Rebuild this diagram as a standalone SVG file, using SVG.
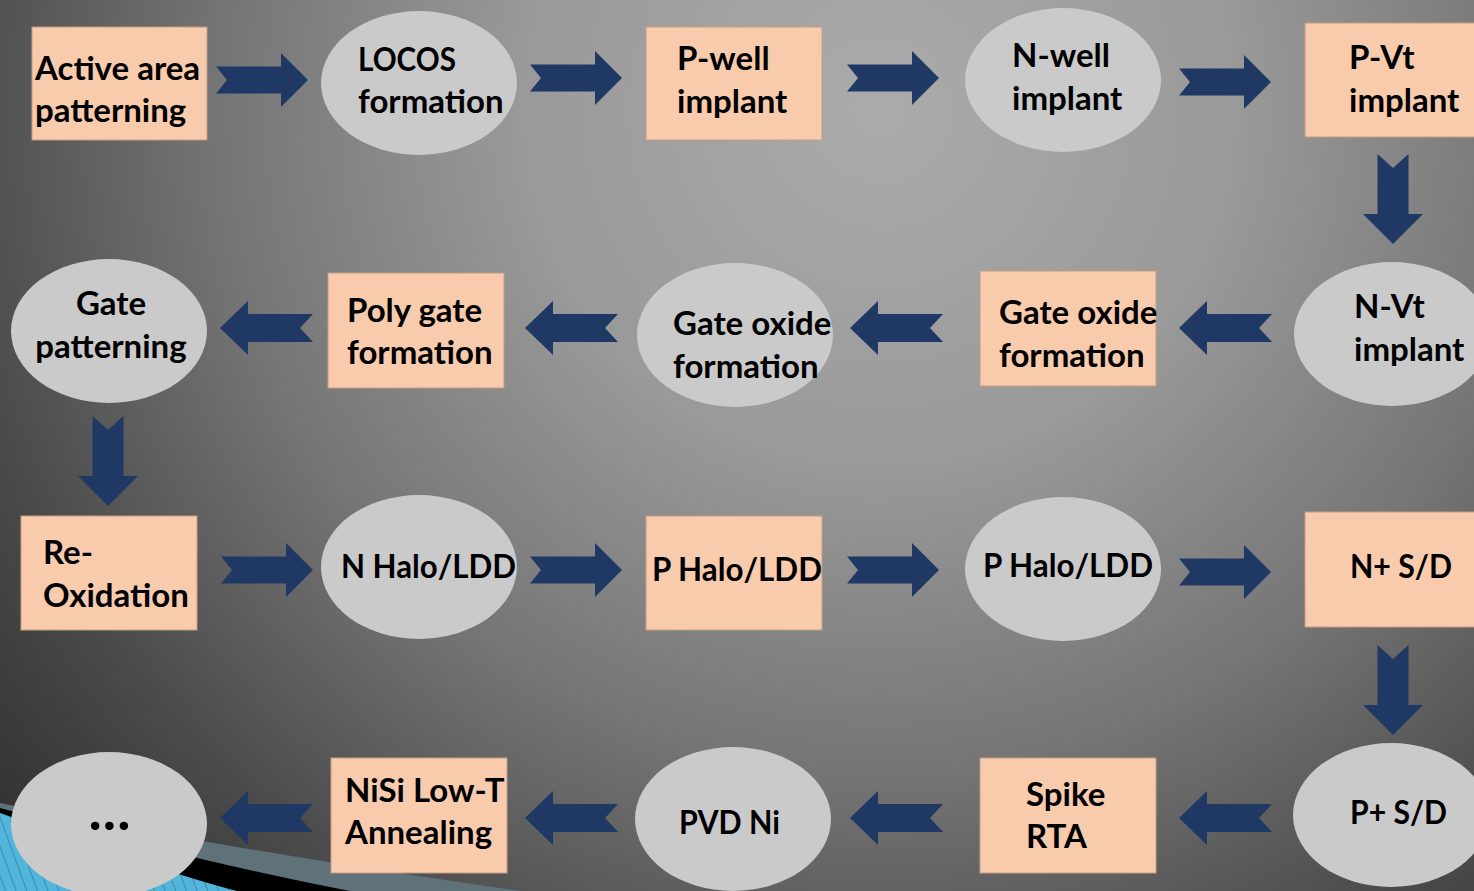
<svg xmlns="http://www.w3.org/2000/svg" width="1474" height="891" viewBox="0 0 1474 891">
  <defs>
    <radialGradient id="bg" gradientUnits="userSpaceOnUse" cx="880" cy="110" r="1200">
      <stop offset="0" stop-color="#ababab"/>
      <stop offset="0.3" stop-color="#999999"/>
      <stop offset="0.55" stop-color="#757575"/>
      <stop offset="0.78" stop-color="#4a4a4a"/>
      <stop offset="1" stop-color="#2a2a2a"/>
    </radialGradient>
    <pattern id="hatch" patternUnits="userSpaceOnUse" width="10" height="10" patternTransform="rotate(-20)">
      <rect width="10" height="10" fill="#52b6dc"/>
      <line x1="0" y1="0" x2="0" y2="10" stroke="#2b6f8e" stroke-width="1.2"/>
    </pattern>
    <path id="arrR" d="M0,-13.5 H65 V-27 L92,0 L65,27 V13.5 H0 L11,0 Z"/>
    <path id="arrL" d="M0,0 L28,-27 V-14 H93 L80,0 L93,14 H28 V27 Z"/>
    <path id="arrD" d="M-15.5,0 L0,14 L15.5,0 V60 H30 L0,90 L-30,60 H-15.5 Z"/>
  </defs>
  <style>
    .box { fill: #f8cbad; stroke: #c49e84; stroke-width: 1; }
    .oval { fill: #cacaca; }
    .lbl { font-family: Lato, "Open Sans", "Liberation Sans", sans-serif; font-weight: 700; font-size: 33px; fill: #000; }
    .mid { text-anchor: middle; }
    .dots { font-size: 56px; letter-spacing: 1px; }
    .arrow { fill: #1f3864; }
  </style>

  <!-- background -->
  <rect width="1474" height="891" fill="url(#bg)"/>

  <!-- corner swoosh -->
  <path d="M0,803 Q220,848 520,891 L0,891 Z" fill="#5f7179"/>
  <path d="M0,808 Q200,862 350,891 L0,891 Z" fill="#000"/>
  <path d="M0,813 Q170,874 237,891 L0,891 Z" fill="url(#hatch)"/>

  <!-- connectors -->
  <g id="connectors" class="arrow">
    <use href="#arrR" x="216" y="80"/>
    <use href="#arrR" x="530" y="78"/>
    <use href="#arrR" x="847" y="78"/>
    <use href="#arrR" x="1179" y="82"/>
    <use href="#arrD" x="1393" y="154"/>
    <use href="#arrL" x="1179" y="328"/>
    <use href="#arrL" x="850" y="328"/>
    <use href="#arrL" x="525" y="328"/>
    <use href="#arrL" x="220" y="328"/>
    <use href="#arrD" x="108" y="416"/>
    <use href="#arrR" x="221" y="570"/>
    <use href="#arrR" x="530" y="570"/>
    <use href="#arrR" x="847" y="570"/>
    <use href="#arrR" x="1179" y="572"/>
    <use href="#arrD" x="1393" y="645"/>
    <use href="#arrL" x="1179" y="818"/>
    <use href="#arrL" x="850" y="818"/>
    <use href="#arrL" x="525" y="818"/>
    <use href="#arrL" x="220" y="818"/>
  </g>

  <!-- row 1 -->
  <g id="active-area">
    <rect class="box" x="32" y="27" width="175" height="113"/>
    <text class="lbl" x="35" y="80">Active area</text>
    <text class="lbl" x="35" y="122">patterning</text>
  </g>
  <g id="locos">
    <ellipse class="oval" cx="419" cy="83" rx="98" ry="72"/>
    <text class="lbl" x="358" y="71" textLength="98" lengthAdjust="spacingAndGlyphs">LOCOS</text>
    <text class="lbl" x="358" y="113">formation</text>
  </g>
  <g id="p-well">
    <rect class="box" x="646" y="27" width="176" height="113"/>
    <text class="lbl" x="677" y="70">P-well</text>
    <text class="lbl" x="677" y="113">implant</text>
  </g>
  <g id="n-well">
    <ellipse class="oval" cx="1063" cy="80" rx="98" ry="72"/>
    <text class="lbl" x="1012" y="67">N-well</text>
    <text class="lbl" x="1012" y="110">implant</text>
  </g>
  <g id="p-vt">
    <rect class="box" x="1305" y="23" width="176" height="114"/>
    <text class="lbl" x="1349" y="69">P-Vt</text>
    <text class="lbl" x="1349" y="112">implant</text>
  </g>

  <!-- row 2 -->
  <g id="n-vt">
    <ellipse class="oval" cx="1392" cy="334" rx="98" ry="72"/>
    <text class="lbl" x="1354" y="318">N-Vt</text>
    <text class="lbl" x="1354" y="361">implant</text>
  </g>
  <g id="gate-oxide-box">
    <rect class="box" x="980" y="271" width="176" height="115"/>
    <text class="lbl" x="999" y="324">Gate oxide</text>
    <text class="lbl" x="999" y="367">formation</text>
  </g>
  <g id="gate-oxide-oval">
    <ellipse class="oval" cx="735" cy="335" rx="98" ry="72"/>
    <text class="lbl" x="673" y="335">Gate oxide</text>
    <text class="lbl" x="673" y="378">formation</text>
  </g>
  <g id="poly-gate">
    <rect class="box" x="328" y="273" width="176" height="115"/>
    <text class="lbl" x="347" y="322">Poly gate</text>
    <text class="lbl" x="347" y="364">formation</text>
  </g>
  <g id="gate-patterning">
    <ellipse class="oval" cx="109" cy="331" rx="98" ry="72"/>
    <text class="lbl mid" x="111" y="315">Gate</text>
    <text class="lbl mid" x="111" y="358">patterning</text>
  </g>

  <!-- row 3 -->
  <g id="re-oxidation">
    <rect class="box" x="21" y="516" width="176" height="114"/>
    <text class="lbl" x="43" y="564">Re-</text>
    <text class="lbl" x="43" y="607">Oxidation</text>
  </g>
  <g id="n-halo">
    <ellipse class="oval" cx="419" cy="567" rx="98" ry="72"/>
    <text class="lbl" x="341" y="578" textLength="175" lengthAdjust="spacingAndGlyphs">N Halo/LDD</text>
  </g>
  <g id="p-halo-box">
    <rect class="box" x="646" y="516" width="176" height="114"/>
    <text class="lbl" x="652" y="581" textLength="170" lengthAdjust="spacingAndGlyphs">P Halo/LDD</text>
  </g>
  <g id="p-halo-oval">
    <ellipse class="oval" cx="1063" cy="569" rx="98" ry="72"/>
    <text class="lbl" x="983" y="577" textLength="170" lengthAdjust="spacingAndGlyphs">P Halo/LDD</text>
  </g>
  <g id="n-plus-sd">
    <rect class="box" x="1305" y="512" width="176" height="115"/>
    <text class="lbl" x="1350" y="578" textLength="102" lengthAdjust="spacingAndGlyphs">N+ S/D</text>
  </g>

  <!-- row 4 -->
  <g id="p-plus-sd">
    <ellipse class="oval" cx="1391" cy="815" rx="98" ry="72"/>
    <text class="lbl" x="1350" y="824" textLength="97" lengthAdjust="spacingAndGlyphs">P+ S/D</text>
  </g>
  <g id="spike-rta">
    <rect class="box" x="980" y="758" width="176" height="115"/>
    <text class="lbl" x="1026" y="806">Spike</text>
    <text class="lbl" x="1026" y="848">RTA</text>
  </g>
  <g id="pvd-ni">
    <ellipse class="oval" cx="733" cy="819" rx="98" ry="72"/>
    <text class="lbl" x="679" y="834" textLength="101" lengthAdjust="spacingAndGlyphs">PVD Ni</text>
  </g>
  <g id="nisi-anneal">
    <rect class="box" x="331" y="758" width="176" height="115"/>
    <text class="lbl" x="345" y="802">NiSi Low-T</text>
    <text class="lbl" x="345" y="844">Annealing</text>
  </g>
  <g id="more">
    <ellipse class="oval" cx="109" cy="824" rx="98" ry="72"/>
    <text class="lbl mid dots" x="110" y="830">...</text>
  </g>
</svg>
